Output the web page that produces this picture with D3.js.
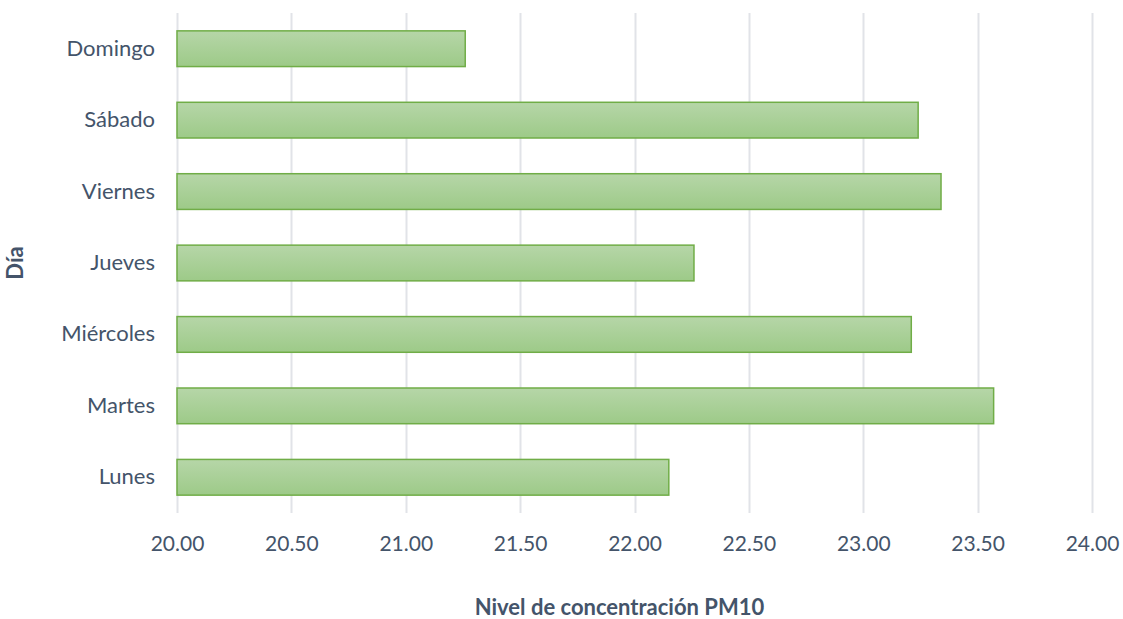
<!DOCTYPE html>
<html>
<head>
<meta charset="utf-8">
<script src="https://cdn.jsdelivr.net/npm/d3@7"></script>
<style>
  html, body { margin: 0; padding: 0; background: #fff; }
  svg { display: block; }
  text { font-family: Lato, "Open Sans", sans-serif; }
</style>
</head>
<body>
<svg id="chart" width="1123" height="619"></svg>
<script>
// Average PM10 concentration per weekday
const days = ["Lunes", "Martes", "Miércoles", "Jueves", "Viernes", "Sábado", "Domingo"];
const pm10 = [22.15, 23.57, 23.21, 22.26, 23.34, 23.24, 21.26];
const xTicks = [20.0, 20.5, 21.0, 21.5, 22.0, 22.5, 23.0, 23.5, 24.0];

const svg = d3.select("#chart");
const margin = { left: 177, right: 31, top: 13, bottom: 106 };
const W = 1123, H = 619;

const x = d3.scaleLinear().domain([20, 24]).range([margin.left, W - margin.right]);
const y = d3.scaleBand().domain(days.slice().reverse()).range([margin.top, H - margin.bottom]).paddingInner(0.5).paddingOuter(0.25);

const defs = svg.append("defs");
const grad = defs.append("linearGradient").attr("id", "barFill").attr("x1", 0).attr("y1", 0).attr("x2", 0).attr("y2", 1);
grad.append("stop").attr("offset", "0%").attr("stop-color", "#b6d6a8");
grad.append("stop").attr("offset", "100%").attr("stop-color", "#9dca88");

// vertical gridlines
svg.append("g").selectAll("line").data(xTicks).join("line")
  .attr("x1", d => Math.round(x(d)) + 0.5).attr("x2", d => Math.round(x(d)) + 0.5)
  .attr("y1", margin.top).attr("y2", H - margin.bottom)
  .attr("stroke", "#e1e3e8").attr("stroke-width", 2);

// bars
svg.append("g").selectAll("rect").data(days).join("rect")
  .attr("x", x(20))
  .attr("y", d => y(d))
  .attr("width", d => x(pm10[days.indexOf(d)]) - x(20))
  .attr("height", y.bandwidth())
  .attr("fill", "url(#barFill)")
  .attr("stroke", "#70ad47")
  .attr("stroke-width", 1.5);

// x axis tick labels
const xAxis = d3.axisBottom(x).tickValues(xTicks).tickFormat(d3.format(".2f")).tickSize(0).tickPadding(0);
const gx = svg.append("g").attr("transform", `translate(0,${H - margin.bottom + 23})`).call(xAxis);
gx.select(".domain").remove();
gx.selectAll("text").attr("font-size", 21).attr("fill", "#44546a").attr("font-family", "Lato, 'Open Sans', sans-serif");

// y axis category labels
const yAxis = d3.axisLeft(y).tickSize(0).tickPadding(22);
const gy = svg.append("g").attr("transform", `translate(${margin.left},0)`).call(yAxis);
gy.select(".domain").remove();
gy.selectAll("text").attr("font-size", 22).attr("fill", "#44546a").attr("font-family", "Lato, 'Open Sans', sans-serif");

// axis titles
svg.append("text")
  .attr("x", (margin.left + W - margin.right) / 2 - 15).attr("y", 615)
  .attr("text-anchor", "middle").attr("font-size", 22).attr("font-weight", "bold")
  .attr("fill", "#44546a").text("Nivel de concentración PM10");

svg.append("text")
  .attr("transform", `translate(23,${(margin.top + H - margin.bottom) / 2}) rotate(-90)`)
  .attr("text-anchor", "middle").attr("font-size", 22).attr("font-weight", "bold")
  .attr("fill", "#44546a").text("Día");
</script>
</body>
</html>
